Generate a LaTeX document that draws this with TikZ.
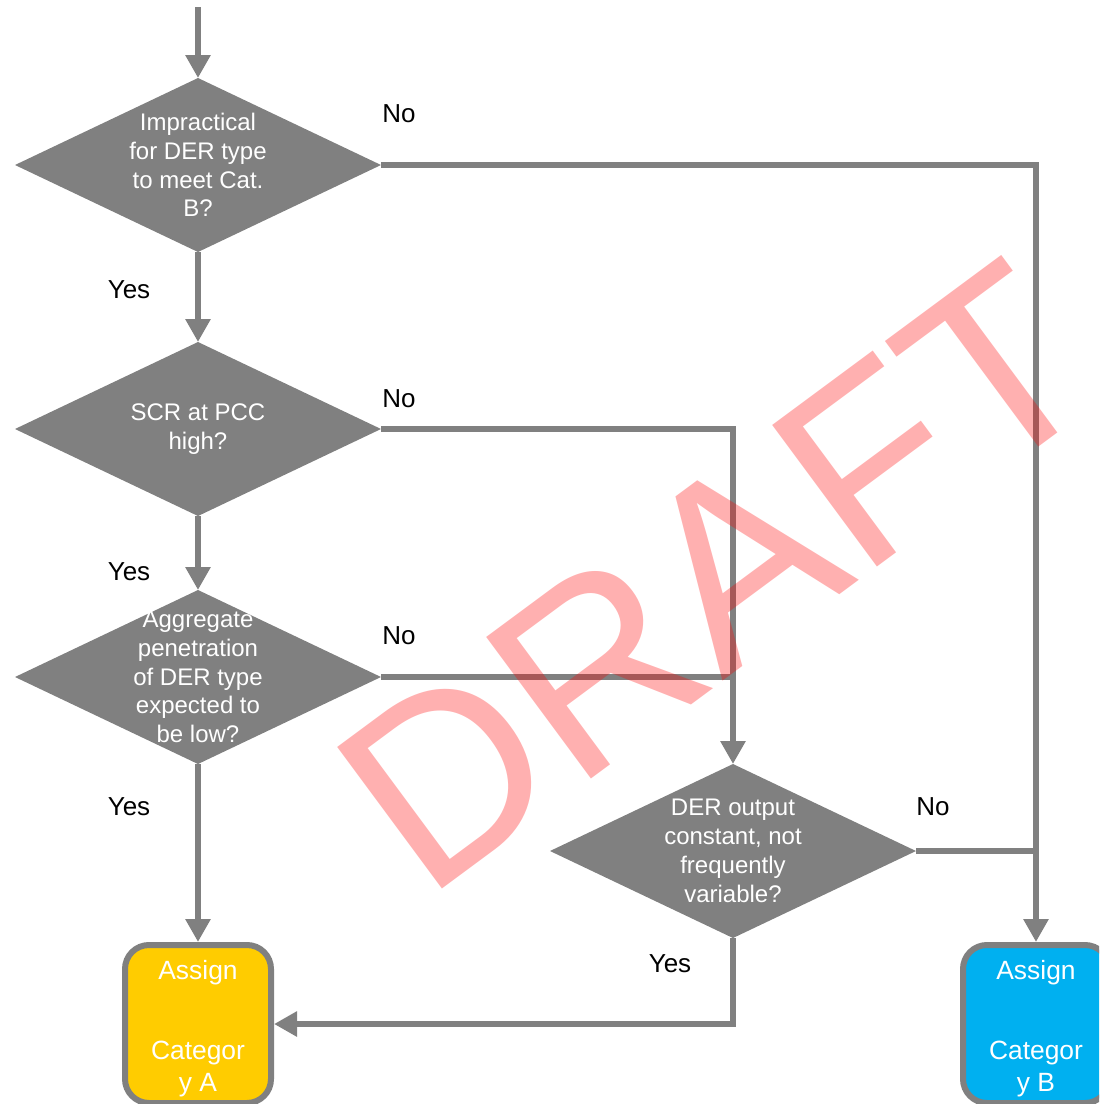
\documentclass[tikz,border=0pt]{standalone}
\usepackage{fontspec}
\setmainfont{Liberation Sans}
\newfontfamily\wmfont[Kerning=Off]{Liberation Sans}
\usetikzlibrary{shapes.geometric,arrows.meta}
\definecolor{flowgray}{RGB}{128,128,128}
\definecolor{catyellow}{RGB}{255,204,0}
\definecolor{catblue}{RGB}{0,176,240}

\begin{document}
\begin{tikzpicture}[x=0.5pt,y=-0.5pt,
  decision/.style={diamond, fill=flowgray, draw=none, aspect=2.1,
    minimum width=183pt, minimum height=87pt, inner sep=0pt, outer sep=0pt},
  dtext/.style={text=white, font=\fontsize{12}{14.4}\selectfont, align=center, inner sep=0pt},
  catbox/.style={rounded corners=12pt, draw=flowgray, line width=3pt,
    minimum width=73pt, minimum height=79pt, inner sep=0pt},
  btext/.style={text=white, font=\fontsize{13.2}{16}\selectfont, align=center,
    inner sep=0pt, anchor=north},
  flow/.style={draw=flowgray, line width=3.3pt},
  arr/.style={flow, -{Triangle[length=11.5pt,width=12pt]}},
  lbl/.style={font=\fontsize{13}{15}\selectfont, anchor=base, inner sep=0pt},
]
\useasboundingbox (0,0) rectangle (1099,1104);
\clip (0,0) rectangle (1099,1104);

% decisions
\node[decision] (d1) at (198,165) {};
\node[decision] (d2) at (198,429) {};
\node[decision] (d3) at (198,677) {};
\node[decision] (d4) at (733,851) {};

\node[dtext] at (d1) {Impractical\\for DER type\\to meet Cat.\\B?};
\node[dtext] at (d2) {SCR at PCC\\high?};
\node[dtext] at (d3) {Aggregate\\penetration\\of DER type\\expected to\\be low?};
\node[dtext] at (d4) {DER output\\constant, not\\frequently\\variable?};

% outcomes
\node[catbox, fill=catyellow] (catA) at (198,1024) {};
\node[catbox, fill=catblue] (catB) at (1036,1024) {};
\node[btext] at (198,960) {Assign\\[24pt]Categor\\y A};
\node[btext] at (1036,960) {Assign\\[24pt]Categor\\y B};

% connectors
\coordinate (entry) at (198,7);
\draw[arr] (entry) -- (d1.north);
\draw[arr] (d1.south) -- (d2.north);
\draw[arr] (d2.south) -- (d3.north);
\draw[arr] (d3.south) -- (catA.north);
\draw[arr] (d1.east) -| (catB.north);
\draw[arr] (d2.east) -| (d4.north);
\draw[flow] (d3.east) -- (d3.east -| d4.north);
\draw[flow] (d4.east) -- (d4.east -| catB.north);
\draw[arr] (d4.south) |- (catA.east);

% branch labels
\node[lbl] at (399,122) {No};
\node[lbl] at (129,298) {Yes};
\node[lbl] at (399,407) {No};
\node[lbl] at (129,580) {Yes};
\node[lbl] at (399,644) {No};
\node[lbl] at (129,815) {Yes};
\node[lbl] at (933,815) {No};
\node[lbl] at (670,972) {Yes};

% watermark
\node[font=\wmfont\fontsize{128}{150}\selectfont, text=red, text opacity=0.31,
  anchor=base west, inner sep=0pt, rotate=36.5]
  (wm) at (425.5,901.3) {DRAFT};
\end{tikzpicture}
\end{document}
